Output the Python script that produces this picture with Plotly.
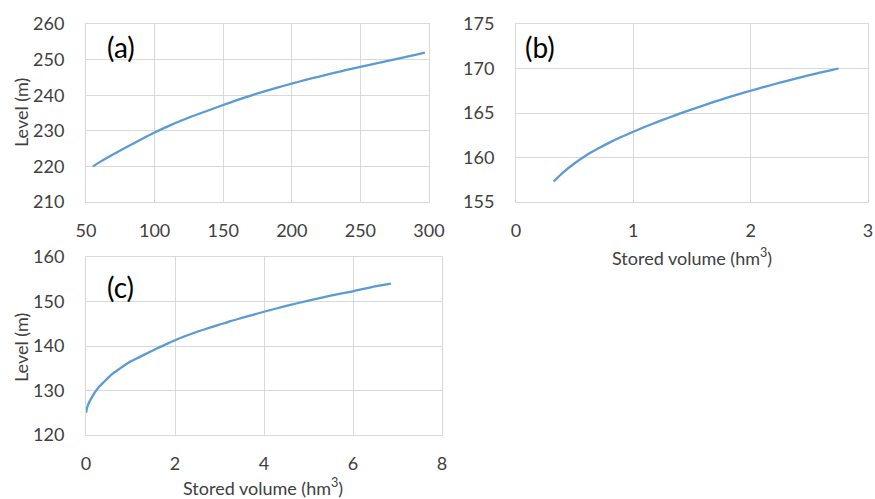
import plotly.graph_objects as go

# Panel (a)
vol_a = [55, 60, 70, 80, 90, 100, 110, 120, 130, 140, 150, 160, 170, 180, 190,
         200, 210, 220, 230, 240, 250, 260, 270, 280, 290, 297]
lev_a = [220.0, 221.2, 223.4, 225.5, 227.55, 229.5, 231.3, 232.95, 234.45, 235.85,
         237.25, 238.6, 239.9, 241.1, 242.2, 243.25, 244.3, 245.25, 246.2, 247.1,
         247.95, 248.8, 249.65, 250.5, 251.35, 251.95]

# Panel (b)
vol_b = [0.32, 0.4, 0.5, 0.6, 0.7, 0.8, 0.9, 1.0, 1.1, 1.2, 1.3, 1.4, 1.5, 1.6,
         1.7, 1.8, 1.9, 2.0, 2.1, 2.2, 2.3, 2.4, 2.5, 2.6, 2.7, 2.75]
lev_b = [157.3, 158.3, 159.35, 160.25, 161.0, 161.7, 162.33, 162.9, 163.45, 163.97,
         164.47, 164.95, 165.41, 165.86, 166.3, 166.72, 167.12, 167.5, 167.87, 168.23,
         168.58, 168.92, 169.25, 169.57, 169.85, 170.0]

# Panel (c)
vol_c = [0.0, 0.02, 0.05, 0.1, 0.15, 0.2, 0.3, 0.4, 0.5, 0.6, 0.7, 0.8, 0.9, 1.0,
         1.2, 1.4, 1.6, 1.8, 2.0, 2.25, 2.5, 2.75, 3.0, 3.25, 3.5, 3.75, 4.0, 4.5,
         5.0, 5.5, 6.0, 6.5, 6.85]
lev_c = [125.0, 125.9, 126.9, 127.9, 128.8, 129.6, 130.9, 131.9, 132.9, 133.8,
         134.5, 135.2, 135.9, 136.5, 137.5, 138.5, 139.5, 140.4, 141.3, 142.3,
         143.2, 144.0, 144.8, 145.6, 146.3, 147.0, 147.7, 149.0, 150.2, 151.3,
         152.3, 153.4, 154.0]

panel_labels = ["(a)", "(b)", "(c)"]
y_title = "Level (m)"
x_title = "Stored volume (hm<sup>3</sup>)"

W, H = 875, 499
FONT = "Lato"
TXT = "#404040"
GRID = "#D9D9D9"
LINE = "#5B9BD5"


def px_x(p):
    return p / W


def px_y(p):
    return 1 - p / H


fig = go.Figure()
for xs, ys, xa, ya in [(vol_a, lev_a, "x", "y"), (vol_b, lev_b, "x2", "y2"),
                       (vol_c, lev_c, "x3", "y3")]:
    fig.add_trace(go.Scatter(x=xs, y=ys, mode="lines",
                             line=dict(color=LINE, width=2.3, shape="spline", smoothing=0.6),
                             xaxis=xa, yaxis=ya, showlegend=False))

common = dict(showgrid=True, gridcolor=GRID, gridwidth=1, showline=True, linecolor=GRID,
              linewidth=1, mirror=True, zeroline=False, ticks="", automargin=False,
              tickfont=dict(family=FONT, size=18, color=TXT), fixedrange=True)

top_a, bot_a = 24, 202
top_c, bot_c = 257, 435

fig.update_layout(
    width=W, height=H,
    margin=dict(l=0, r=0, t=0, b=0, autoexpand=False),
    paper_bgcolor="white", plot_bgcolor="white",
    xaxis=dict(domain=[px_x(86), px_x(429)], range=[50, 300], dtick=50, anchor="y",
               ticklabelstandoff=12, **common),
    yaxis=dict(domain=[px_y(bot_a), px_y(top_a)], range=[210, 260], dtick=10, anchor="x",
               ticklabelstandoff=17, **common),
    xaxis2=dict(domain=[px_x(516), px_x(868)], range=[0, 3], dtick=1, anchor="y2",
                ticklabelstandoff=12, **common),
    yaxis2=dict(domain=[px_y(bot_a), px_y(top_a)], range=[155, 175], dtick=5, anchor="x2",
                ticklabelstandoff=17, **common),
    xaxis3=dict(domain=[px_x(86), px_x(442)], range=[0, 8], dtick=2, anchor="y3",
                ticklabelstandoff=12, **common),
    yaxis3=dict(domain=[px_y(bot_c), px_y(top_c)], range=[120, 160], dtick=10, anchor="x3",
                ticklabelstandoff=17, **common),
)

ann = []
for txt, (cx, cy) in zip(panel_labels, [(121, 47), (540, 47), (120, 287)]):
    ann.append(dict(text=txt, x=px_x(cx), y=px_y(cy), xref="paper", yref="paper",
                    showarrow=False, xanchor="center", yanchor="middle",
                    font=dict(family=FONT, size=28, color="#000000")))
for cy in [(top_a + bot_a) / 2, (top_c + bot_c) / 2 + 2]:
    ann.append(dict(text=y_title, x=px_x(21), y=px_y(cy), xref="paper", yref="paper",
                    showarrow=False, xanchor="center", yanchor="middle", textangle=-90,
                    font=dict(family=FONT, size=18, color=TXT)))
for cx, cy in [(692, 257), (263, 487)]:
    ann.append(dict(text=x_title, x=px_x(cx), y=px_y(cy), xref="paper", yref="paper",
                    showarrow=False, xanchor="center", yanchor="middle",
                    font=dict(family=FONT, size=18, color=TXT)))
fig.update_layout(annotations=ann)

fig.write_html("out.html")
